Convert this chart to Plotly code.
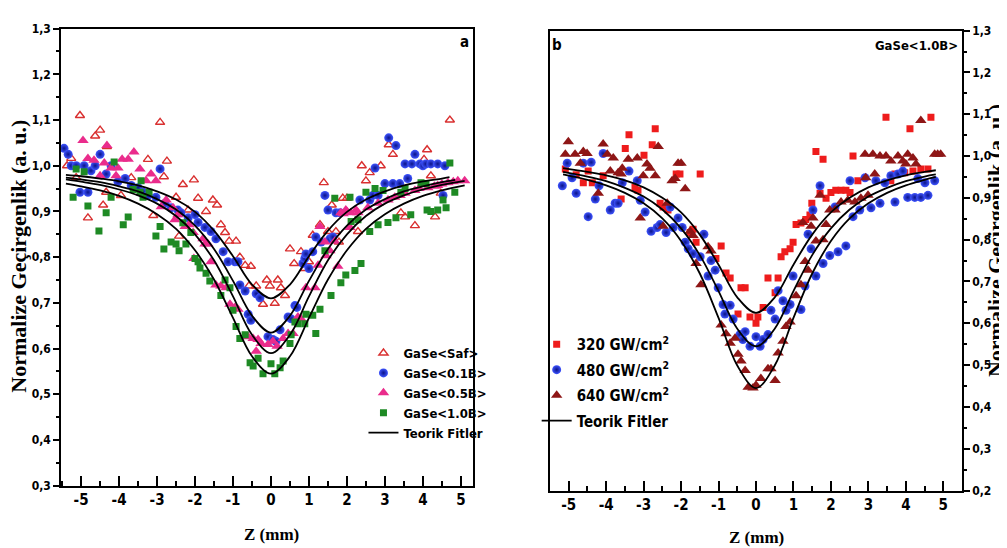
import plotly.graph_objects as go

# ---- panel a : GaSe samples, Z-scan data ----
saf_z = [-5.37, -5.26, -5.13, -5.03, -4.82, -4.63, -4.5, -4.42, -4.34, -4.32, -3.95, -3.68, -3.24, -3.1,
         -2.92, -2.82, -2.74, -2.5, -2.42, -2.32, -2.18, -2.03, -1.92, -1.71, -1.53, -1.42, -1.32, -1.21,
         -1.1, -0.92, -0.82, -0.68, -0.58, -0.53, -0.39, -0.21, -0.11, -0.03, 0.1, 0.18, 0.26, 0.37, 0.5,
         0.61, 0.79, 0.89, 1.0, 1.1, 1.29, 1.39, 1.5, 1.6, 1.71, 1.79, 1.89, 2.0, 2.29, 2.39, 2.5, 2.6,
         2.89, 3.1, 3.21, 3.42, 3.53, 3.79, 4.03, 4.11, 4.21, 4.32, 4.47, 4.71]
saf_t = [1.0, 1.016, 0.974, 1.11, 0.886, 1.065, 1.078, 0.914, 0.942, 1.042, 0.935, 0.974, 1.014, 0.891,
         1.095, 0.976, 1.01, 0.931, 0.846, 0.959, 0.903, 0.969, 0.929, 0.9, 0.925, 0.914, 0.871, 0.854,
         0.835, 0.835, 0.8, 0.782, 0.737, 0.78, 0.737, 0.697, 0.75, 0.737, 0.699, 0.75, 0.733, 0.716, 0.818,
         0.786, 0.812, 0.775, 0.79, 0.848, 0.871, 0.963, 0.856, 0.914, 0.856, 0.833, 0.929, 0.929, 0.856,
         1.0, 0.967, 0.985, 1.0, 1.046, 1.025, 0.897, 0.888, 0.869, 1.014, 1.035, 0.978, 0.888, 0.94, 1.1]

b01_z = [-5.45, -5.34, -5.26, -5.13, -5.03, -4.92, -4.82, -4.74, -4.63, -4.5, -4.34, -4.21, -4.03, -3.84,
         -3.68, -3.5, -3.37, -3.24, -3.03, -2.92, -2.79, -2.63, -2.45, -2.37, -2.18, -2.0, -1.92, -1.74,
         -1.58, -1.45, -1.26, -1.13, -0.95, -0.87, -0.82, -0.68, -0.6, -0.53, -0.39, -0.29, -0.08, 0.05,
         0.13, 0.24, 0.45, 0.53, 0.63, 0.68, 0.84, 0.89, 0.92, 1.0, 1.1, 1.18, 1.32, 1.42, 1.5, 1.55, 1.63,
         1.71, 1.82, 2.34, 2.6, 2.68, 2.74, 2.82, 3.0, 3.1, 3.21, 3.29, 3.39, 3.53, 3.6, 3.71, 3.79, 3.92,
         4.0, 4.08, 4.21, 4.39, 4.53, 4.58]
b01_t = [1.038, 1.025, 1.0, 1.0, 0.942, 1.0, 0.942, 0.989, 1.0, 1.025, 0.982, 1.0, 0.965, 0.972,
         0.957, 0.952, 0.942, 0.935, 0.931, 0.993, 0.918, 0.908, 0.903, 0.897, 0.886, 0.893, 0.876, 0.865,
         0.856, 0.84, 0.812, 0.79, 0.79, 0.79, 0.739, 0.726, 0.675, 0.662, 0.72, 0.711, 0.626, 0.62,
         0.616, 0.641, 0.669, 0.665, 0.694, 0.69, 0.786, 0.797, 0.807, 0.775, 0.812, 0.844, 0.833, 0.935,
         0.903, 0.84, 0.844, 0.897, 0.897, 0.925, 0.925, 0.935, 0.995, 0.935, 0.961, 1.061, 0.961, 1.044,
         0.961, 1.004, 0.972, 1.004, 1.025, 1.004, 1.0, 1.004, 1.004, 1.004, 0.935, 1.0]

b05_z = [-4.95, -4.82, -4.66, -4.5, -4.39, -4.32, -4.21, -4.08, -4.03, -3.92, -3.76, -3.61, -3.45, -3.29,
         -3.16, -3.03, -2.89, -2.76, -2.58, -2.53, -2.45, -2.26, -2.16, -2.05, -2.03, -1.79, -1.74, -1.66,
         -1.58, -1.45, -1.32, -1.18, -1.08, -0.95, -0.87, -0.6, -0.47, -0.39, -0.34, -0.26, -0.08, 0.05,
         0.16, 0.32, 0.45, 0.58, 0.71, 0.79, 0.92, 1.16, 1.24, 1.29, 1.42, 1.45, 1.55, 1.68, 1.76, 1.84,
         1.9, 1.97, 2.0, 2.08, 2.1, 2.24, 2.29, 2.55, 2.82, 3.08, 3.26, 3.4, 3.53, 3.79, 3.9, 4.13, 4.3,
         4.39, 4.5, 4.66, 4.8, 4.92, 5.1]
b05_t = [1.055, 1.016, 1.012, 0.978, 1.006, 1.044, 0.995, 0.978, 0.995, 1.014, 1.014, 1.03, 0.993, 0.967,
         0.982, 0.967, 0.91, 0.925, 0.908, 0.882, 0.893, 0.867, 0.871, 0.854, 0.797, 0.84, 0.829, 0.829,
         0.79, 0.739, 0.737, 0.733, 0.697, 0.69, 0.686, 0.626, 0.622, 0.594, 0.62, 0.611, 0.609, 0.616,
         0.605, 0.622, 0.633, 0.633, 0.669, 0.665, 0.733, 0.733, 0.782, 0.867, 0.833, 0.803, 0.814, 0.835,
         0.78, 0.897, 0.895, 0.903, 0.9, 0.865, 0.897, 0.903, 0.897, 0.908, 0.918, 0.925, 0.931, 0.935,
         0.94, 0.946, 0.95, 0.952, 0.955, 0.957, 0.96, 0.963, 0.965, 0.967, 0.967]

b10_z = [-5.21, -5.13, -4.92, -4.82, -4.53, -4.34, -4.21, -4.13, -3.89, -3.76, -3.63, -3.45, -3.42, -3.37,
         -3.21, -3.03, -2.92, -2.82, -2.63, -2.5, -2.42, -2.32, -2.24, -2.11, -2.0, -1.92, -1.87, -1.71,
         -1.61, -1.32, -1.21, -1.08, -1.0, -0.92, -0.82, -0.68, -0.55, -0.47, -0.34, -0.21, 0.0, 0.1, 0.24,
         0.32, 0.5, 0.53, 0.63, 0.71, 0.89, 0.92, 1.1, 1.18, 1.29, 1.42, 1.58, 1.68, 1.84, 1.97, 2.08,
         2.11, 2.21, 2.29, 2.37, 2.5, 2.6, 2.74, 2.82, 2.95, 3.08, 3.29, 3.42, 3.53, 3.68, 3.95, 4.08,
         4.11, 4.21, 4.39, 4.53, 4.61, 4.71, 4.84]
b10_t = [0.931, 0.993, 0.987, 0.912, 0.857, 0.897, 0.931, 1.008, 0.871, 0.888, 0.948, 0.942, 0.967, 0.931,
         0.942, 0.846, 0.867, 0.818, 0.833, 0.829, 0.814, 0.875, 0.829, 0.854, 0.797, 0.79, 0.776, 0.765,
         0.748, 0.716, 0.75, 0.733, 0.684, 0.648, 0.622, 0.63, 0.569, 0.562, 0.579, 0.545, 0.567, 0.545,
         0.558, 0.573, 0.611, 0.63, 0.658, 0.654, 0.654, 0.675, 0.673, 0.633, 0.686, 0.814, 0.716, 0.929,
         0.744, 0.761, 0.931, 0.878, 0.771, 0.882, 0.786, 0.942, 0.856, 0.95, 0.871, 0.946, 0.876, 0.886,
         0.942, 0.95, 0.893, 0.963, 0.961, 0.903, 0.9, 0.903, 0.925, 0.908, 1.006, 0.942]

# theoretical fits (panel a)
fit_a_z = [-5.4, -5.0, -4.5, -4.0, -3.5, -3.0, -2.5, -2.0, -1.5, -1.0, -0.5, 0.0,
           0.5, 1.0, 1.5, 2.0, 2.5, 3.0, 3.5, 4.0, 4.5]
fit_saf = [0.98, 0.977, 0.972, 0.966, 0.957, 0.944, 0.926, 0.899, 0.858, 0.802, 0.74, 0.71,
           0.74, 0.802, 0.858, 0.899, 0.926, 0.944, 0.957, 0.966, 0.972]
fit_b01 = [0.974, 0.97, 0.964, 0.955, 0.944, 0.927, 0.904, 0.869, 0.818, 0.748, 0.672, 0.635,
           0.672, 0.748, 0.818, 0.869, 0.904, 0.927, 0.944, 0.955, 0.964]
fit_b05 = [0.97, 0.965, 0.958, 0.948, 0.935, 0.917, 0.89, 0.85, 0.793, 0.714, 0.63, 0.59,
           0.63, 0.714, 0.793, 0.85, 0.89, 0.917, 0.935, 0.948, 0.958]
fit_b10 = [0.961, 0.955, 0.946, 0.934, 0.917, 0.894, 0.862, 0.815, 0.751, 0.667, 0.583, 0.545,
           0.583, 0.667, 0.751, 0.815, 0.862, 0.894, 0.917, 0.934, 0.946]
fit_end_z = [4.7, 4.85, 5.1, 5.1]
fit_end_t = [0.975, 0.969, 0.967, 0.957]

# ---- panel b : GaSe<1.0B> at three intensities ----
i320_z = [-5.09, -4.8, -4.61, -4.48, -4.37, -4.08, -3.6, -3.49, -3.39, -3.23, -3.15, -2.99, -2.77, -2.69,
          -2.56, -2.48, -2.35, -2.13, -2.03, -1.76, -1.68, -1.6, -1.49, -1.07, -0.93, -0.8, -0.69, -0.48,
          -0.4, -0.29, -0.16, 0.0, 0.05, 0.19, 0.32, 0.51, 0.59, 0.67, 0.77, 0.91, 0.99, 1.07, 1.2, 1.33,
          1.44, 1.49, 1.6, 1.71, 1.79, 1.87, 2.0, 2.13, 2.27, 2.4, 2.51, 2.59, 2.72, 3.47, 3.6, 3.71, 3.97,
          4.11, 4.19, 4.4, 4.59, 4.67]
i320_t = [0.969, 0.955, 0.936, 0.964, 0.936, 0.953, 0.897, 1.018, 1.051, 0.925, 0.918, 1.002, 1.027, 1.065,
          0.887, 0.878, 0.871, 0.957, 0.957, 0.817, 0.825, 0.794, 0.957, 0.755, 0.785, 0.72, 0.708, 0.622,
          0.685, 0.685, 0.615, 0.6, 0.615, 0.638, 0.708, 0.673, 0.708, 0.759, 0.771, 0.778, 0.794, 0.836,
          0.84, 0.848, 0.859, 0.887, 1.011, 0.911, 0.992, 0.899, 0.913, 0.918, 0.918, 0.918, 0.913, 1.0,
          0.941, 1.093, 0.941, 0.957, 0.96, 1.065, 0.964, 0.969, 0.969, 1.093]

i480_z = [-5.17, -5.04, -4.91, -4.8, -4.61, -4.48, -4.4, -4.29, -4.19, -4.08, -3.89, -3.76, -3.68, -3.57,
          -3.39, -3.17, -3.09, -2.96, -2.8, -2.64, -2.56, -2.4, -2.29, -2.21, -2.08, -1.97, -1.89, -1.81,
          -1.68, -1.49, -1.39, -1.28, -1.2, -1.09, -1.01, -0.88, -0.83, -0.69, -0.61, -0.43, -0.35, -0.29,
          -0.16, 0.0, 0.11, 0.19, 0.32, 0.4, 0.51, 0.59, 0.72, 0.8, 0.91, 0.99, 1.2, 1.31, 1.39, 1.47, 1.52,
          1.6, 1.71, 1.79, 1.97, 2.11, 2.19, 2.4, 2.51, 2.59, 2.77, 2.91, 3.07, 3.2, 3.31, 3.44, 3.6, 3.71,
          3.79, 3.92, 4.05, 4.24, 4.32, 4.4, 4.51, 4.59, 4.77]
i480_t = [0.929, 0.983, 0.948, 0.911, 0.983, 0.855, 0.985, 0.897, 0.929, 1.006, 0.871, 0.887, 0.887, 0.936,
          0.964, 0.941, 0.894, 0.866, 0.82, 0.829, 0.836, 0.817, 0.878, 0.829, 0.852, 0.829, 0.794, 0.778,
          0.766, 0.759, 0.813, 0.713, 0.75, 0.727, 0.685, 0.645, 0.622, 0.643, 0.61, 0.573, 0.561, 0.58,
          0.545, 0.568, 0.545, 0.561, 0.573, 0.631, 0.61, 0.678, 0.654, 0.631, 0.645, 0.713, 0.633, 0.689,
          0.813, 0.778, 0.871, 0.713, 0.929, 0.743, 0.762, 0.878, 0.771, 0.785, 0.941, 0.855, 0.871, 0.948,
          0.876, 0.941, 0.887, 0.936, 0.953, 0.89, 0.957, 0.964, 0.901, 0.901, 0.946, 0.901, 0.936, 0.906,
          0.941]

i640_z = [-5.09, -5.01, -4.83, -4.69, -4.61, -4.51, -4.21, -4.08, -3.97, -3.89, -3.81, -3.68, -3.6, -3.57,
          -3.41, -3.17, -3.09, -3.01, -2.91, -2.83, -2.69, -2.61, -2.48, -2.37, -2.24, -2.16, -2.08, -2.0,
          -1.89, -1.76, -1.68, -1.6, -1.47, -1.28, -1.2, -0.93, -0.8, -0.69, -0.56, -0.48, -0.4, -0.29,
          -0.21, -0.08, 0.0, 0.13, 0.32, 0.4, 0.51, 0.59, 0.72, 0.8, 0.91, 1.07, 1.2, 1.25, 1.31, 1.39,
          1.47, 1.52, 1.6, 1.71, 1.79, 1.87, 1.97, 2.11, 2.27, 2.45, 2.64, 2.8, 2.91, 2.93, 2.99, 3.12, 3.17,
          3.31, 3.47, 3.6, 3.79, 3.92, 4.0, 4.05, 4.19, 4.27, 4.4, 4.77, 4.85, 4.93]
i640_t = [1.004, 1.034, 1.004, 0.983, 1.011, 1.006, 0.911, 1.029, 1.004, 0.964, 0.995, 0.96, 0.957, 0.971,
          0.992, 0.995, 0.852, 0.953, 0.981, 0.971, 0.953, 1.023, 0.832, 0.887, 0.941, 0.946, 0.983, 0.983,
          0.922, 0.82, 0.81, 0.743, 0.692, 0.783, 0.773, 0.596, 0.575, 0.552, 0.564, 0.526, 0.51, 0.487,
          0.447, 0.445, 0.452, 0.468, 0.491, 0.491, 0.463, 0.529, 0.557, 0.592, 0.603, 0.666, 0.692, 0.841,
          0.748, 0.727, 0.832, 0.852, 0.797, 0.906, 0.8, 0.836, 0.871, 0.871, 0.89, 0.894, 0.89, 0.899,
          1.004, 0.948, 0.906, 1.004, 0.957, 1.0, 1.0, 0.988, 1.0, 0.988, 0.981, 1.004, 0.995, 0.981, 1.085,
          1.004, 1.004, 1.004]

fit_b_z = [-5.15, -4.5, -4.0, -3.5, -3.0, -2.5, -2.0, -1.5, -1.0, -0.5, 0.0,
           0.5, 1.0, 1.5, 2.0, 2.5, 3.0, 3.5, 4.0, 4.5, 4.8]
fit_320 = [0.971, 0.962, 0.954, 0.942, 0.925, 0.9, 0.865, 0.812, 0.74, 0.662, 0.625,
           0.662, 0.74, 0.812, 0.865, 0.9, 0.925, 0.942, 0.954, 0.962, 0.966]
fit_480 = [0.962, 0.951, 0.94, 0.924, 0.903, 0.872, 0.827, 0.763, 0.677, 0.587, 0.545,
           0.587, 0.677, 0.763, 0.827, 0.872, 0.903, 0.924, 0.94, 0.951, 0.956]
fit_640 = [0.956, 0.943, 0.93, 0.912, 0.887, 0.851, 0.797, 0.719, 0.613, 0.499, 0.445,
           0.499, 0.613, 0.719, 0.797, 0.851, 0.887, 0.912, 0.93, 0.943, 0.95]

z_tick_vals = [-5, -4, -3, -2, -1, 0, 1, 2, 3, 4, 5]
z_tick_text = ['-5', '-4', '-3', '-2', '-1', '0', '1', '2', '3', '4', '5']

NARROW = "DejaVu Sans Condensed, Liberation Sans, Arial"
SERIF = "Liberation Serif, Times New Roman, serif"
SPHERE = dict(type='radial', color='#0a138a')

fig = go.Figure()

# panel a scatter
fig.add_trace(go.Scatter(x=saf_z, y=saf_t, mode='markers', name='GaSe&lt;Saf&gt;',
                         marker=dict(symbol='triangle-up-open', size=8, color='#d93030',
                                     line=dict(width=1.4, color='#d93030')),
                         xaxis='x', yaxis='y', legend='legend'))
fig.add_trace(go.Scatter(x=b01_z, y=b01_t, mode='markers', name='GaSe&lt;0.1B&gt;',
                         marker=dict(symbol='circle', size=9, color='#3f55ff', gradient=SPHERE),
                         xaxis='x', yaxis='y', legend='legend'))
fig.add_trace(go.Scatter(x=b05_z, y=b05_t, mode='markers', name='GaSe&lt;0.5B&gt;',
                         marker=dict(symbol='triangle-up', size=10, color='#ea2c8c'),
                         xaxis='x', yaxis='y', legend='legend'))
fig.add_trace(go.Scatter(x=b10_z, y=b10_t, mode='markers', name='GaSe&lt;1.0B&gt;',
                         marker=dict(symbol='square', size=7, color='#1e8a24'),
                         xaxis='x', yaxis='y', legend='legend'))

fits_a = [fit_saf, fit_b01, fit_b05, fit_b10]
for i, fit in enumerate(fits_a):
    fig.add_trace(go.Scatter(x=fit_a_z + [fit_end_z[i]], y=fit + [fit_end_t[i]], mode='lines',
                             line=dict(color='black', width=1.8, shape='spline'),
                             name='Teorik Fitler', showlegend=(i == 0),
                             xaxis='x', yaxis='y', legend='legend'))

# panel b scatter
fig.add_trace(go.Scatter(x=i320_z, y=i320_t, mode='markers', name='320 GW/cm<sup>2</sup>',
                         marker=dict(symbol='square', size=7, color='#ee1c1c'), legendgroup='g320',
                         xaxis='x2', yaxis='y2', legend='legend2'))
fig.add_trace(go.Scatter(x=i480_z, y=i480_t, mode='markers', name='480 GW/cm<sup>2</sup>',
                         marker=dict(symbol='circle', size=9, color='#3f55ff', gradient=SPHERE),
                         legendgroup='g480', xaxis='x2', yaxis='y2', legend='legend2'))
fig.add_trace(go.Scatter(x=i640_z, y=i640_t, mode='markers', name='640 GW/cm<sup>2</sup>',
                         marker=dict(symbol='triangle-up', size=10, color='#8e1616'), legendgroup='g640',
                         xaxis='x2', yaxis='y2', legend='legend2'))

fits_b = [fit_320, fit_480, fit_640]
for i, fit in enumerate(fits_b):
    fig.add_trace(go.Scatter(x=fit_b_z, y=fit, mode='lines',
                             line=dict(color='black', width=1.8, shape='spline'),
                             name='Teorik Fitler', showlegend=(i == 0), legendgroup='gfit',
                             xaxis='x2', yaxis='y2', legend='legend2'))

xax = dict(tickvals=z_tick_vals, ticktext=z_tick_text, ticks='inside', ticklen=10, tickwidth=1.5,
           tickcolor='black',
           minor=dict(dtick=0.5, tick0=0, ticks='inside', ticklen=5, tickwidth=1.5, tickcolor='black'),
           showline=True, linewidth=1.6, linecolor='black', mirror=True, showgrid=False,
           zeroline=False, ticklabelstandoff=0,
           tickfont=dict(family=NARROW, size=15, color='black', weight='bold'))
yax = dict(dtick=0.1, tick0=0, tickformat='.1f', ticks='outside', ticklen=6, tickwidth=1.5,
           tickcolor='black',
           minor=dict(dtick=0.05, ticks='outside', ticklen=3, tickwidth=1.5, tickcolor='black'),
           showline=True, linewidth=1.6, linecolor='black', mirror=True, showgrid=False,
           zeroline=False,
           tickfont=dict(family=NARROW, size=12, color='black', weight='bold'))

fig.update_layout(
    width=1007, height=548,
    margin=dict(l=0, r=0, t=0, b=0),
    paper_bgcolor='white', plot_bgcolor='white',
    separators=',.',
    xaxis=dict(xax, domain=[0.0526, 0.4618], range=[-5.53, 5.32], anchor='y'),
    yaxis=dict(yax, domain=[0.1186, 0.9745], range=[0.3, 1.3], anchor='x'),
    xaxis2=dict(xax, domain=[0.5382, 0.9474], range=[-5.5, 5.5], anchor='y2'),
    yaxis2=dict(yax, domain=[0.1095, 0.9708], range=[0.2, 1.3], anchor='x2', side='right'),
    legend=dict(x=0.353, y=0.395, xanchor='left', yanchor='top', bgcolor='rgba(0,0,0,0)',
                font=dict(family=NARROW, size=13, color='black', weight='bold'),
                tracegroupgap=0, itemwidth=30),
    legend2=dict(x=0.525, y=0.414, xanchor='left', yanchor='top', bgcolor='rgba(0,0,0,0)',
                 font=dict(family=NARROW, size=15, color='black', weight='bold'),
                 tracegroupgap=3, itemwidth=30),
    showlegend=True,
)

title_font = dict(family=SERIF, size=22, color='black', weight='bold')
fig.add_annotation(text='Normalize Geçirgenlik (a. u.)', x=11 / 1007, y=1 - 248 / 548,
                   xref='paper', yref='paper', xanchor='center', yanchor='middle',
                   showarrow=False, textangle=-90, font=title_font)
fig.add_annotation(text='Normalize Geçirgenlik (a. u.)', x=987 / 1007, y=1 - 232 / 548,
                   xref='paper', yref='paper', xanchor='center', yanchor='middle',
                   showarrow=False, textangle=-90, font=title_font)
zfont = dict(family=SERIF, size=17, color='black', weight='bold')
fig.add_annotation(text='Z (mm)', x=263 / 1007, y=1 - 533 / 548, xref='paper', yref='paper',
                   xanchor='center', yanchor='middle', showarrow=False, font=zfont)
fig.add_annotation(text='Z (mm)', x=748 / 1007, y=1 - 536 / 548, xref='paper', yref='paper',
                   xanchor='center', yanchor='middle', showarrow=False, font=zfont)
fig.add_annotation(text='a', x=456 / 1007, y=1 - 28 / 548, xref='paper', yref='paper',
                   xanchor='center', yanchor='middle', showarrow=False,
                   font=dict(family=NARROW, size=15, color='black', weight='bold'))
fig.add_annotation(text='b', x=549 / 1007, y=1 - 31 / 548, xref='paper', yref='paper',
                   xanchor='center', yanchor='middle', showarrow=False,
                   font=dict(family=NARROW, size=15, color='black', weight='bold'))
fig.add_annotation(text='GaSe&lt;1.0B&gt;', x=952 / 1007, y=1 - 31 / 548, xref='paper',
                   yref='paper', xanchor='right', yanchor='middle', showarrow=False,
                   font=dict(family=NARROW, size=13, color='black', weight='bold'))

fig.write_html("out.html")
